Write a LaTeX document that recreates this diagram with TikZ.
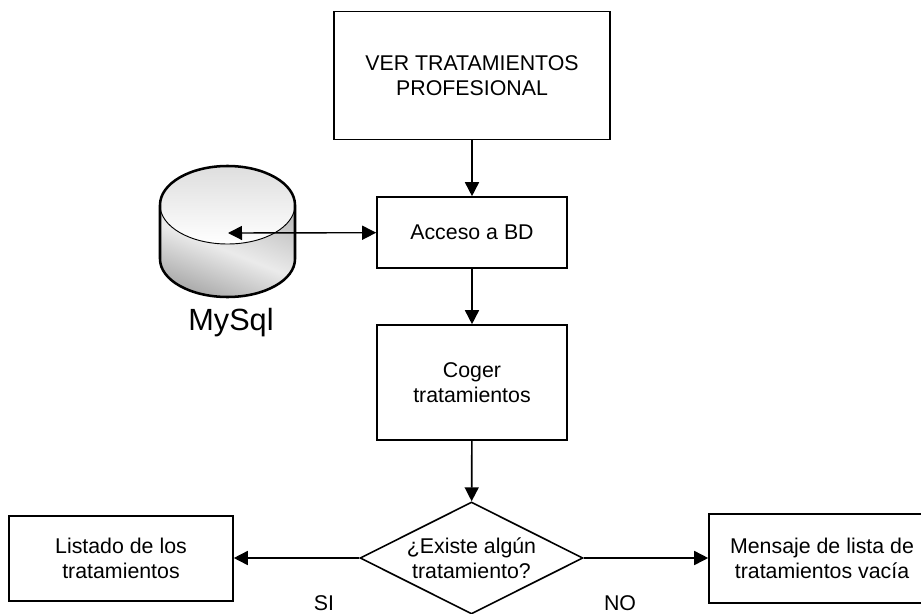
\documentclass[tikz,border=0pt]{standalone}
\usepackage{fontspec}
\setmainfont{Liberation Sans}
\usetikzlibrary{arrows.meta, shapes.geometric}
\tikzset{
  box/.style={draw, line width=1.2pt, align=center, font=\fontsize{16}{19}\selectfont, inner sep=0pt},
  choice/.style={box, diamond, aspect=2, minimum width=167.25pt, minimum height=84pt},
  flow/.style={line width=1.2pt, -{Triangle[length=10.5pt, width=10.5pt]}},
  both/.style={line width=1.05pt, {Triangle[length=10.5pt, width=10.5pt]}-{Triangle[length=10.5pt, width=10.5pt]}},
  tag/.style={font=\fontsize{16}{19}\selectfont, inner sep=0pt}
}
\begin{document}
\begin{tikzpicture}[x=0.75pt, y=-0.75pt]
      \useasboundingbox (0, 0) rectangle (921, 614);
      \clip (0, 0) rectangle (921, 614);
      % base de datos
      \shade [left color=black!25, right color=black!34, middle color=black!8, shading angle=-22]
            (160, 205) -- (160, 259) arc [start angle=180, end angle=0, x radius=67.5, y radius=38]
            -- (295, 205) -- cycle;
      \shade [top color=black!13, bottom color=white]
            (227.5, 205) ellipse [x radius=67.5, y radius=39];
      \draw [line width=.7pt] (160, 205) arc [start angle=180, end angle=0, x radius=67.5, y radius=39];
      \draw [line width=1.9pt] (160, 259) -- (160, 205) arc [start angle=180, end angle=360, x radius=67.5, y radius=39]
            -- (295, 259) arc [start angle=0, end angle=180, x radius=67.5, y radius=38];
      \coordinate (dbcentre) at (228, 233);
      \node (mysql) [font=\fontsize{23}{28}\selectfont, inner sep=0pt] at (231, 323) {MySql};
      \draw (472, 75.5) node (ver) [box, minimum width=207pt, minimum height=96pt] {VER TRATAMIENTOS\\PROFESIONAL}
            (472, 232.5) node (acceso) [box, minimum width=142.5pt, minimum height=53.25pt] {Acceso a BD}
            (472, 382.5) node (coger) [box, minimum width=142.5pt, minimum height=86.25pt] {Coger\\tratamientos}
            (471.5, 558) node (existe) [choice] {¿Existe algún\\tratamiento?}
            (121, 558.5) node (listado) [box, minimum width=168pt, minimum height=64pt] {Listado de los\\tratamientos}
            (822, 558.5) node (mensaje) [box, minimum width=169.5pt, minimum height=66.75pt] {Mensaje de lista de\\tratamientos vacía};
      \draw (324, 603) node (si) [tag] {SI}
            (620, 603) node (no) [tag] {NO};
      \path [flow] (ver) edge (acceso)
                   (acceso) edge (coger)
                   (coger) edge (existe)
                   (existe.west) edge (existe.west -| listado.east)
                   (existe.east) edge (existe.east -| mensaje.west);
      \draw [both] (dbcentre) -- (acceso);
      \end{tikzpicture}
\end{document}
